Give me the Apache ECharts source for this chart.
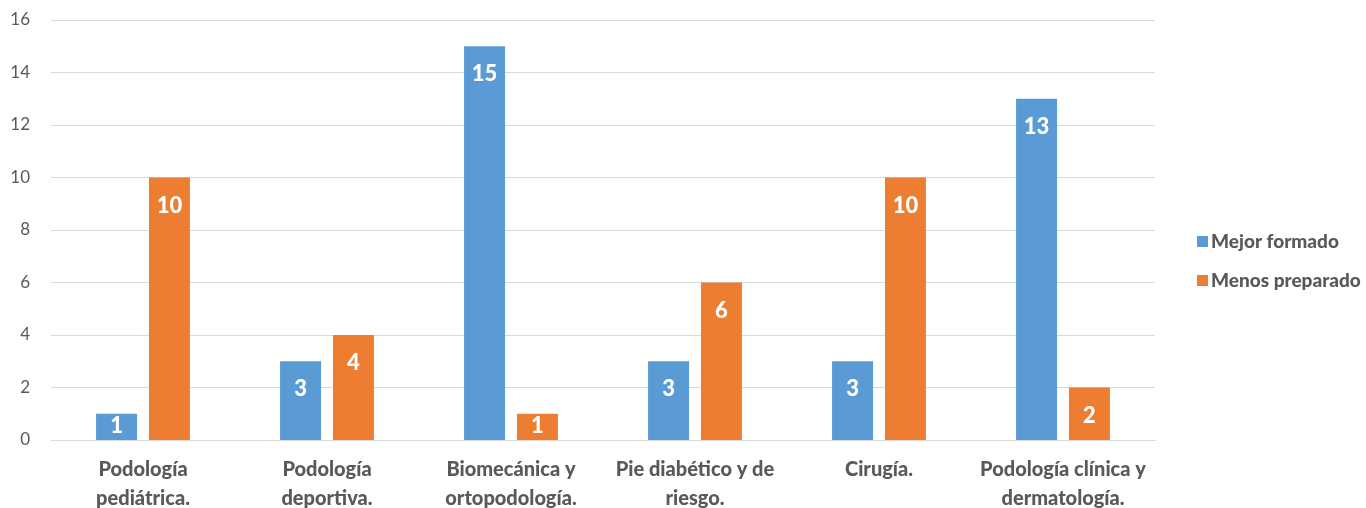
<!DOCTYPE html>
<html>
<head>
<meta charset="utf-8">
<script src="https://cdn.jsdelivr.net/npm/echarts@6/dist/echarts.min.js"></script>
<style>
  html, body { margin: 0; padding: 0; background: #fff; }
  #chart { width: 1366px; height: 508px; }
</style>
</head>
<body>
<div id="chart"></div>
<script>
// data
const categories = [
  "Podología\npediátrica.",
  "Podología\ndeportiva.",
  "Biomecánica y\nortopodología.",
  "Pie diabético y de\nriesgo.",
  "Cirugía.",
  "Podología clínica y\ndermatología."
];
const mejorFormado = [1, 3, 15, 3, 3, 13];
const menosPreparado = [10, 4, 1, 6, 10, 2];

const font = "Lato, 'Open Sans', sans-serif";

// small bars: label pushed up so it still fits inside the bar
const toItems = vals => vals.map(v => v < 2 ? { value: v, label: { distance: 1 } } : v);

const barLabel = {
  show: true,
  position: 'insideTop',
  distance: 17,
  color: '#fff',
  fontFamily: font,
  fontWeight: 900,
  fontSize: 22
};

const chart = echarts.init(document.getElementById('chart'), null, { renderer: 'canvas' });

chart.setOption({
  animation: false,
  textStyle: { fontFamily: font },
  grid: { left: 51, right: 211, top: 20, bottom: 68, outerBoundsMode: 'none', containLabel: false },
  legend: {
    orient: 'vertical',
    left: 1192,
    top: 227,
    itemWidth: 11,
    itemHeight: 11,
    itemGap: 20,
    icon: 'rect',
    textStyle: { color: '#595959', fontFamily: font, fontWeight: 900, fontSize: 19, padding: [0, 0, 0, -2] },
    data: ['Mejor formado', 'Menos preparado']
  },
  xAxis: {
    type: 'category',
    data: categories,
    axisLine: { lineStyle: { color: '#d9d9d9' } },
    axisTick: { show: false },
    axisLabel: {
      color: '#595959',
      fontFamily: font,
      fontWeight: 900,
      fontSize: 20,
      lineHeight: 29,
      margin: 15,
      interval: 0
    }
  },
  yAxis: {
    type: 'value',
    min: 0,
    max: 16,
    interval: 2,
    axisLine: { show: false },
    axisTick: { show: false },
    splitLine: { lineStyle: { color: '#d9d9d9' } },
    axisLabel: { color: '#595959', fontFamily: font, fontSize: 17, margin: 21 }
  },
  series: [
    {
      name: 'Mejor formado',
      type: 'bar',
      data: toItems(mejorFormado),
      barWidth: 41,
      barGap: '29%',
      itemStyle: { color: '#5b9bd5' },
      label: barLabel
    },
    {
      name: 'Menos preparado',
      type: 'bar',
      data: toItems(menosPreparado),
      barWidth: 41,
      itemStyle: { color: '#ed7d31' },
      label: barLabel
    }
  ]
});
</script>
</body>
</html>
